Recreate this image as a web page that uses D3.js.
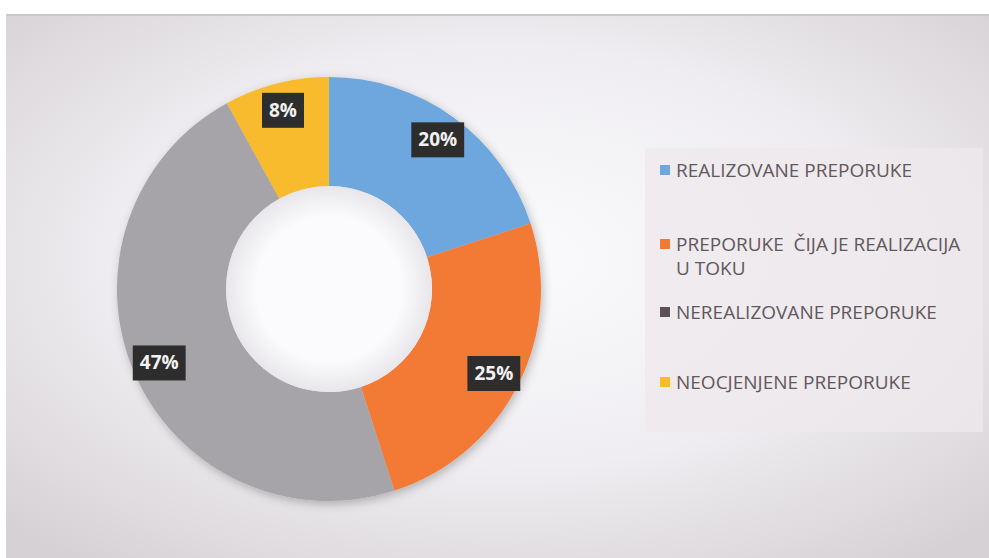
<!DOCTYPE html>
<meta charset="utf-8">
<style>
body { margin: 0; background: #fff; }
.legend text { font-family: "Open Sans", sans-serif; font-size: 19px; fill: #62585c; white-space: pre; }
.lbl text { font-family: "Open Sans", sans-serif; font-size: 19px; font-weight: bold; fill: #f2f2f2; }
</style>
<body>
<script src="https://d3js.org/d3.v7.min.js"></script>
<script>

// data
var categories = ["REALIZOVANE PREPORUKE", "PREPORUKE  ČIJA JE REALIZACIJA|U TOKU", "NEREALIZOVANE PREPORUKE", "NEOCJENJENE PREPORUKE"];
var values = [20, 25, 47, 8];
var labels = ["20%", "25%", "47%", "8%"];
var colors = ["#6ea7de", "#f27a36", "#a6a4a8", "#f9bb2e"];

var width = 989, height = 558;
var cx = 329, cy = 289, outerR = 212, innerR = 103, labelR = 185;

var svg = d3.select("body").append("svg")
    .attr("width", width)
    .attr("height", height);

// scanned-page background
var defs = svg.append("defs");
var bg = defs.append("radialGradient").attr("id", "bg")
    .attr("cx", "0.5").attr("cy", "0.45").attr("r", "0.7");
bg.append("stop").attr("offset", "0").attr("stop-color", "#fbfbfd");
bg.append("stop").attr("offset", "0.55").attr("stop-color", "#efedf1");
bg.append("stop").attr("offset", "1").attr("stop-color", "#d6d1d4");

var sh = defs.append("filter").attr("id", "shadow")
    .attr("x", "-20%").attr("y", "-20%").attr("width", "140%").attr("height", "140%");
sh.append("feDropShadow").attr("dx", 2).attr("dy", 3).attr("stdDeviation", 5)
    .attr("flood-color", "#000").attr("flood-opacity", 0.25);

svg.append("rect").attr("x", 6).attr("y", 14).attr("width", width - 6).attr("height", height - 14)
    .attr("fill", "url(#bg)");
svg.append("line").attr("x1", 6).attr("x2", width).attr("y1", 15).attr("y2", 15)
    .attr("stroke", "#c9c9cc").attr("stroke-width", 2);

// legend panel
svg.append("rect").attr("x", 645).attr("y", 148).attr("width", 338).attr("height", 284)
    .attr("fill", "#ede9ec").attr("opacity", 0.8);

var pie = d3.pie().sort(null).value(function(d) { return d; });
var arc = d3.arc().innerRadius(innerR).outerRadius(outerR);
var labelArc = d3.arc().innerRadius(labelR).outerRadius(labelR);
var arcs = pie(values);

var g = svg.append("g").attr("transform", "translate(" + cx + "," + cy + ")");

g.append("g").attr("filter", "url(#shadow)")
  .selectAll("path")
  .data(arcs)
  .enter().append("path")
    .attr("d", arc)
    .attr("fill", function(d, i) { return colors[i]; });

// inner hole highlight
var hole = defs.append("radialGradient").attr("id", "hole");
hole.append("stop").attr("offset", "0.7").attr("stop-color", "#fbfbfd");
hole.append("stop").attr("offset", "1").attr("stop-color", "#e8e6ea");
g.append("circle").attr("r", innerR).attr("fill", "url(#hole)");

// data labels: dark boxes with white text
var lbl = g.selectAll(".lbl")
  .data(arcs)
  .enter().append("g")
    .attr("class", "lbl")
    .attr("transform", function(d) { return "translate(" + labelArc.centroid(d) + ")"; });

lbl.append("text")
    .attr("text-anchor", "middle")
    .attr("dy", "0.36em")
    .text(function(d, i) { return labels[i]; })
    .each(function() {
      var b = this.getBBox();
      d3.select(this.parentNode).insert("rect", "text")
        .attr("x", b.x - 7).attr("y", -17)
        .attr("width", b.width + 14).attr("height", 35)
        .attr("fill", "#2e2d2e");
    });

// legend
var legendY = [170, 244, 312, 382];
var legend = svg.append("g").attr("class", "legend")
  .selectAll("g")
  .data(categories)
  .enter().append("g")
    .attr("transform", function(d, i) { return "translate(660," + legendY[i] + ")"; });

legend.append("rect")
    .attr("x", 0).attr("y", -5).attr("width", 10).attr("height", 10)
    .attr("fill", function(d, i) { return i == 2 ? "#5a5055" : colors[i]; });

legend.append("text")
    .attr("x", 16)
    .each(function(d) {
      var parts = d.split("|");
      var t = d3.select(this);
      parts.forEach(function(p, j) {
        t.append("tspan").attr("x", 16).attr("dy", j == 0 ? "0.35em" : "24").text(p);
      });
    });

</script>
</body>
